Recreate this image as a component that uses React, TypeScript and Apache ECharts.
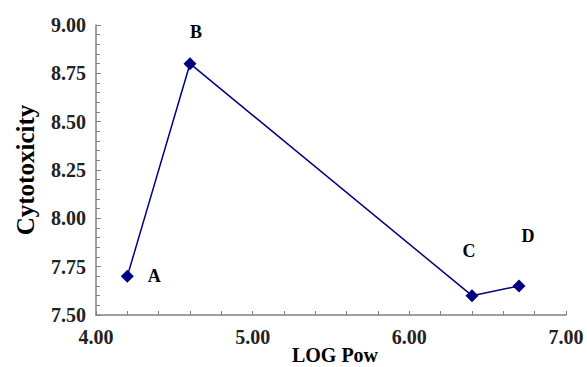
import React, { useEffect, useRef } from "react";
import * as echarts from "echarts";

const pointNames = ["A", "B", "C", "D"];
const logPow = [4.2, 4.6, 6.4, 6.7];
const cytotoxicity = [7.7, 8.8, 7.6, 7.65];

const labelOffsets: Record<string, [number, number]> = {
  A: [27, 0],
  B: [6, -32],
  C: [-3, -45],
  D: [9, -50],
};

const FONT = "'Liberation Serif', 'Times New Roman', serif";

export default function App() {
  const ref = useRef<HTMLDivElement>(null);
  useEffect(() => {
    if (!ref.current) return;
    const chart = echarts.init(ref.current, undefined, { renderer: "svg" });
    chart.setOption({
      animation: false,
      backgroundColor: "#ffffff",
      grid: { left: 96, top: 25, right: 21, bottom: 52, outerBoundsMode: "none", containLabel: false },
      xAxis: {
        type: "value",
        min: 4,
        max: 7,
        interval: 1,
        name: "LOG Pow",
        nameLocation: "middle",
        nameGap: 30,
        nameMoveOverlap: false,
        nameTextStyle: { fontFamily: FONT, fontWeight: "bold", fontSize: 20, color: "#000", padding: [0, 0, 0, 8] },
        axisLine: { show: true, onZero: false, lineStyle: { color: "#808080", width: 1.5 } },
        axisTick: { show: true, inside: true, length: 4, lineStyle: { color: "#808080" } },
        minorTick: { show: true, splitNumber: 5, length: 4, lineStyle: { color: "#808080" } },
        splitLine: { show: false },
        axisLabel: {
          fontFamily: FONT,
          fontWeight: "bold",
          fontSize: 20,
          color: "#222",
          margin: 12,
          formatter: (v: number) => v.toFixed(2),
        },
      },
      yAxis: {
        type: "value",
        min: 7.5,
        max: 9,
        interval: 0.25,
        name: "Cytotoxicity",
        nameLocation: "middle",
        nameGap: 58,
        nameMoveOverlap: false,
        nameTextStyle: { fontFamily: FONT, fontWeight: "bold", fontSize: 25, color: "#000" },
        axisLine: { show: true, onZero: false, lineStyle: { color: "#808080", width: 1.5 } },
        axisTick: { show: true, inside: true, length: 5, lineStyle: { color: "#808080" } },
        minorTick: { show: true, splitNumber: 5, length: 4, lineStyle: { color: "#808080" } },
        splitLine: { show: false },
        axisLabel: {
          fontFamily: FONT,
          fontWeight: "bold",
          fontSize: 20,
          color: "#222",
          margin: 10,
          formatter: (v: number) => v.toFixed(2),
        },
      },
      series: [
        {
          type: "line",
          data: pointNames.map((n, i) => ({
            name: n,
            value: [logPow[i], cytotoxicity[i]],
            label: {
              show: true,
              position: "inside",
              offset: labelOffsets[n],
              formatter: n,
              fontFamily: FONT,
              fontWeight: "bold",
              fontSize: 18,
              color: "#000",
            },
          })),
          symbol: "diamond",
          symbolSize: 13,
          itemStyle: { color: "#000080" },
          lineStyle: { color: "#000080", width: 1.5 },
        },
      ],
    });
    return () => chart.dispose();
  }, []);
  return <div ref={ref} style={{ width: 587, height: 367, position: "absolute", left: 0, top: 0 }} />;
}
